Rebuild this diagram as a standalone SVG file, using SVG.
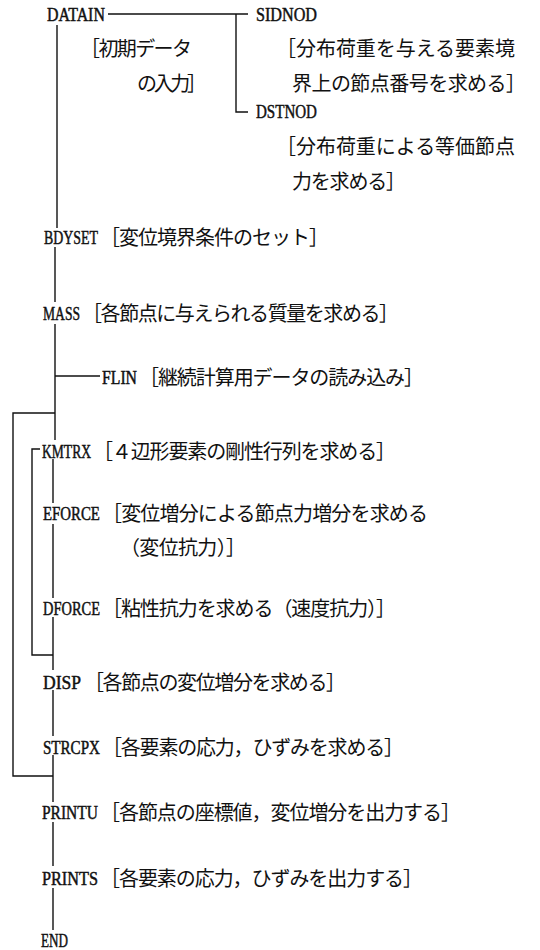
<svg xmlns="http://www.w3.org/2000/svg" width="540" height="950" viewBox="0 0 540 950">
<style>
.n{font-family:"Liberation Serif","DejaVu Serif",serif;font-size:19.5px;fill:#111;stroke:#111;stroke-width:0.5}
.c{font-family:"Noto Sans CJK JP","Noto Sans CJK SC",sans-serif;font-size:20px;fill:#111}
.l{fill:none;stroke:#111;stroke-width:1.4}
</style>
<rect width="540" height="950" fill="#fff"/>
<g id="connectors" class="l">
<path d="M108,14H248M236,14V112H248"/>
<path d="M57,25V228"/>
<path d="M55,247V302"/>
<path d="M55,324V440"/>
<path d="M55,376H100"/>
<path d="M55,413H13V776H53"/>
<path d="M40,449H32V655H53"/>
<path d="M53,459V503"/>
<path d="M53,524V598"/>
<path d="M53,617V670"/>
<path d="M53,690V736"/>
<path d="M53,755V802"/>
<path d="M53,822V866"/>
<path d="M53,888V930"/>
</g>
<g id="DATAIN">
<text class="n" transform="translate(47,20.5) scale(0.816,1)">DATAIN</text>
<text class="c" x="80" y="56" textLength="112" lengthAdjust="spacing">［初期データ</text>
<text class="c" x="137" y="91" textLength="70" lengthAdjust="spacing">の入力］</text>
</g>
<g id="SIDNOD">
<text class="n" transform="translate(256,20.5) scale(0.828,1)">SIDNOD</text>
<text class="c" x="276" y="56" textLength="239" lengthAdjust="spacing">［分布荷重を与える要素境</text>
<text class="c" x="292" y="91" textLength="234" lengthAdjust="spacing">界上の節点番号を求める］</text>
</g>
<g id="DSTNOD">
<text class="n" transform="translate(256,117.5) scale(0.771,1)">DSTNOD</text>
<text class="c" x="276" y="154" textLength="239" lengthAdjust="spacing">［分布荷重による等価節点</text>
<text class="c" x="292" y="189" textLength="114" lengthAdjust="spacing">力を求める］</text>
</g>
<g id="BDYSET">
<text class="n" transform="translate(44,243.5) scale(0.712,1)">BDYSET</text>
<text class="c" x="100" y="245" textLength="229" lengthAdjust="spacing">［変位境界条件のセット］</text>
</g>
<g id="MASS">
<text class="n" transform="translate(43,319.5) scale(0.697,1)">MASS</text>
<text class="c" x="82" y="321" textLength="317" lengthAdjust="spacing">［各節点に与えられる質量を求める］</text>
</g>
<g id="FLIN">
<text class="n" transform="translate(102,383.5) scale(0.808,1)">FLIN</text>
<text class="c" x="139" y="385" textLength="285" lengthAdjust="spacing">［継続計算用データの読み込み］</text>
</g>
<g id="KMTRX">
<text class="n" transform="translate(42,457.5) scale(0.696,1)">KMTRX</text>
<text class="c" x="93" y="459" textLength="303" lengthAdjust="spacing">［４辺形要素の剛性行列を求める］</text>
</g>
<g id="EFORCE">
<text class="n" transform="translate(43,519.5) scale(0.762,1)">EFORCE</text>
<text class="c" x="102" y="521" textLength="326" lengthAdjust="spacing">［変位増分による節点力増分を求める</text>
<text class="c" x="120" y="555" textLength="126" lengthAdjust="spacing">（変位抗力）］</text>
</g>
<g id="DFORCE">
<text class="n" transform="translate(43,614.5) scale(0.741,1)">DFORCE</text>
<text class="c" x="102" y="616" textLength="294" lengthAdjust="spacing">［粘性抗力を求める（速度抗力）］</text>
</g>
<g id="DISP">
<text class="n" transform="translate(43,688.5) scale(0.9,1)">DISP</text>
<text class="c" x="84" y="690" textLength="262" lengthAdjust="spacing">［各節点の変位増分を求める］</text>
</g>
<g id="STRCPX">
<text class="n" transform="translate(43,753.5) scale(0.773,1)">STRCPX</text>
<text class="c" x="102" y="755" textLength="302" lengthAdjust="spacing">［各要素の応力，ひずみを求める］</text>
</g>
<g id="PRINTU">
<text class="n" transform="translate(42,818.5) scale(0.795,1)">PRINTU</text>
<text class="c" x="100" y="820" textLength="361" lengthAdjust="spacing">［各節点の座標値，変位増分を出力する］</text>
</g>
<g id="PRINTS">
<text class="n" transform="translate(42,884.5) scale(0.833,1)">PRINTS</text>
<text class="c" x="100" y="886" textLength="323" lengthAdjust="spacing">［各要素の応力，ひずみを出力する］</text>
</g>
<g id="END">
<text class="n" transform="translate(41,946.5) scale(0.673,1)">END</text>
</g>
</svg>
